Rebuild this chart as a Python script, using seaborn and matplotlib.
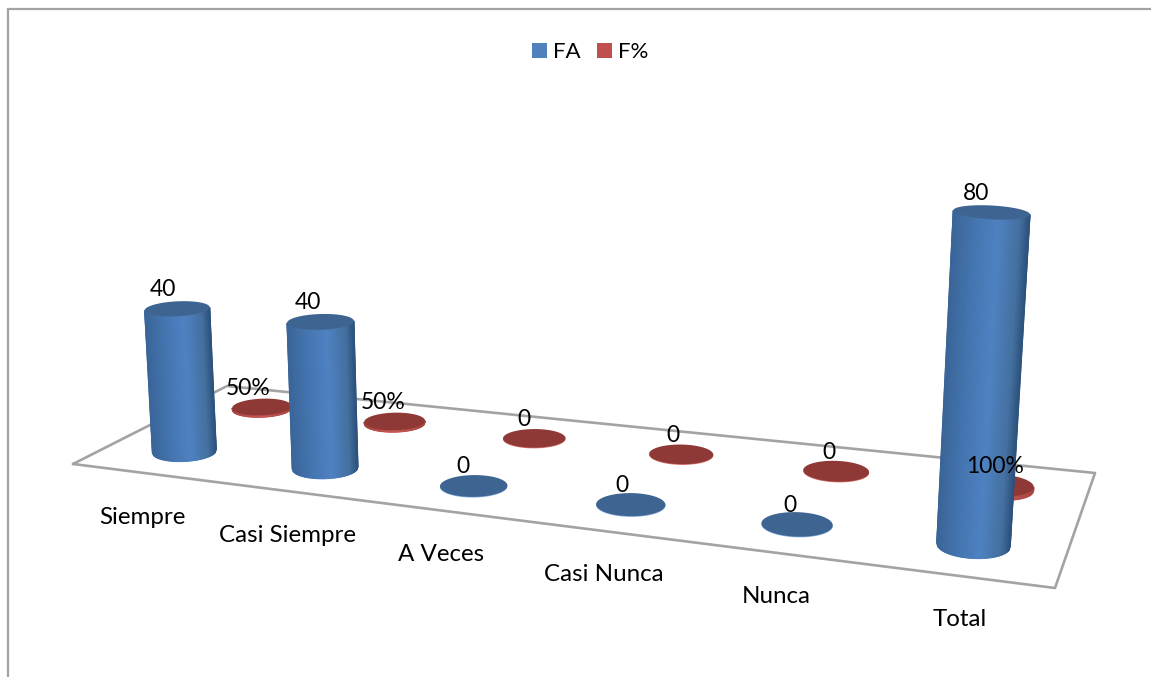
import numpy as np
import pandas as pd
import seaborn as sns
import matplotlib
matplotlib.use("Agg")
import matplotlib.pyplot as plt
from matplotlib.colors import LinearSegmentedColormap
from matplotlib.patches import Patch, Polygon

# Survey answers
categories = ["Siempre", "Casi Siempre", "A Veces", "Casi Nunca", "Nunca", "Total"]
fa_values = [40, 40, 0, 0, 0, 80]
fp_values = [0.5, 0.5, 0, 0, 0, 1.0]
fa_labels = ["40", "40", "0", "0", "0", "80"]
fp_labels = ["50%", "50%", "0", "0", "0", "100%"]

BLUE, RED = "#4f81bd", "#c0504d"
BLUE_TOP, RED_TOP = "#3e6491", "#8f3937"
BLUE_RIM, RED_RIM = "#7ea6d6", "#d9706c"
LINE = "#a3a3a3"

sns.set_theme(style="white")
plt.rcParams["font.family"] = ["Lato", "DejaVu Sans"]
VALUE_SIZE, CATEGORY_SIZE, LEGEND_SIZE = 16.5, 17.4, 16

fig = plt.figure(figsize=(11.51, 6.77), dpi=100)
ax = fig.add_axes([0, 0, 1, 1])
ax.set_xlim(0, 1151)
ax.set_ylim(677, 0)
ax.axis("off")

# Camera of the 3-D scene: (category position, series row, 1) to canvas pixels
H = np.array([[130.483264, 95.6777327, 116.7332846],
              [4.3410458, -12.4549543, 443.5448648],
              [-0.0259734, 0.0731135, 1.0]])
VANISH = np.array([566.0, 8000.0, 1.0])    # where the upright columns converge
LIFT = 0.000458                            # height of one value unit
WIDTH_K = 63.0                             # column diameter at unit distance
FA_ROW, FP_ROW, LABEL_ROW = 0.0, 1.0, -0.5
LABEL_SHIFT = np.array([1.0, 41.8])
VALUE_RISE = -19.0
TALLEST_NUDGE = -10.0                      # the tallest column's label sits further left


def project(u, row, z):
    p = H @ np.array([u, row, 1.0]) - LIFT * z * VANISH
    return p[:2] / p[2], p[2]


def ring(center, w, axis, theta):
    half = WIDTH_K / w / 2
    aspect = 0.18 + 0.00052 * (center[1] - 212)
    e2 = axis / np.linalg.norm(axis)
    e2 = -e2 if e2[1] < 0 else e2
    e1 = np.array([e2[1], -e2[0]])
    return (center[None, :]
            + half * np.cos(theta)[:, None] * e1[None, :]
            + half * aspect * np.sin(theta)[:, None] * e2[None, :])


def draw_cylinder(u, row, value, side_cmap, top_color, rim_color, zorder):
    base, wb = project(u, row, 0)
    top, wt = project(u, row, value)
    axis = project(u, row, 1)[0] - base
    across = np.linspace(-1, 1, 70)
    theta = np.arccos(across)
    whole = np.linspace(0, 2 * np.pi, 120)
    low, high = ring(base, wb, axis, theta), ring(top, wt, axis, theta)
    ax.add_patch(Polygon(ring(base + [0, 0.7], wb, axis, whole), fc=rim_color, ec="none", zorder=zorder))
    if value > 0:
        xs = np.vstack([low[:, 0], high[:, 0]])
        ys = np.vstack([low[:, 1], high[:, 1]])
        shade = np.tile((across + 1) / 2, (2, 1))
        ax.pcolormesh(xs, ys, shade, cmap=side_cmap, vmin=0, vmax=1,
                      shading="gouraud", zorder=zorder)
        # Smooth the silhouette on both flanks
        for k, frac in ((0, 0.0), (-1, 1.0)):
            ax.plot(xs[:, k], ys[:, k], color=side_cmap(frac), lw=0.9, zorder=zorder,
                    solid_capstyle="butt")
    ax.add_patch(Polygon(ring(top, wt, axis, whole), fc=top_color, ec="none", zorder=zorder))
    return top


def value_label(pos, text, nudge=0.0):
    shift = -14 + 0.011 * (pos[0] - 200) + nudge
    ax.text(pos[0] + shift, pos[1] + VALUE_RISE, text, ha="center", va="center",
            color="black", fontsize=VALUE_SIZE, zorder=30)


blue_side = LinearSegmentedColormap.from_list(
    "blue_side", [(0, "#3a6598"), (0.3, "#4576b1"), (0.6, "#4f82c2"), (0.88, "#44709f"), (1, "#2d527e")])
red_side = LinearSegmentedColormap.from_list(
    "red_side", [(0, "#a84643"), (0.5, "#c65a56"), (1, "#a84643")])

# Outer frame
ax.plot([8, 8, 1151], [677, 9, 9], color=LINE, lw=1.6, solid_joinstyle="miter", zorder=1)

# Floor outline
floor = pd.DataFrame({"x": [73, 1055, 1095, 227, 73], "y": [464, 588, 473, 386, 464]})
sns.lineplot(data=floor, x="x", y="y", sort=False, estimator=None, color=LINE, lw=1.9, ax=ax, zorder=2)
ax.set_xlim(0, 1151)
ax.set_ylim(677, 0)

# Columns: the far row first, then the near one, left to right
for i, name in enumerate(categories):
    u = i + 0.5
    top_fp = draw_cylinder(u, FP_ROW, fp_values[i], red_side, RED_TOP, RED_RIM, 3 + 2 * i)
    top_fa = draw_cylinder(u, FA_ROW, fa_values[i], blue_side, BLUE_TOP, BLUE_RIM, 4 + 2 * i)
    value_label(top_fp, fp_labels[i])
    value_label(top_fa, fa_labels[i], TALLEST_NUDGE if fa_values[i] == max(fa_values) else 0.0)
    ax.text(*(project(u, LABEL_ROW, 0)[0] + LABEL_SHIFT), name, ha="center", va="center",
            color="black", fontsize=CATEGORY_SIZE, zorder=30)

ax.legend(handles=[Patch(fc=BLUE, ec="none", label="FA"), Patch(fc=RED, ec="none", label="F%")],
          ncol=2, frameon=False, loc="center", bbox_to_anchor=(590 / 1151, 1 - 52 / 677),
          fontsize=LEGEND_SIZE, handlelength=0.68, handleheight=0.68, handletextpad=0.26,
          columnspacing=0.74, labelcolor="black")

fig.savefig("out.png", dpi=100, facecolor="white")
